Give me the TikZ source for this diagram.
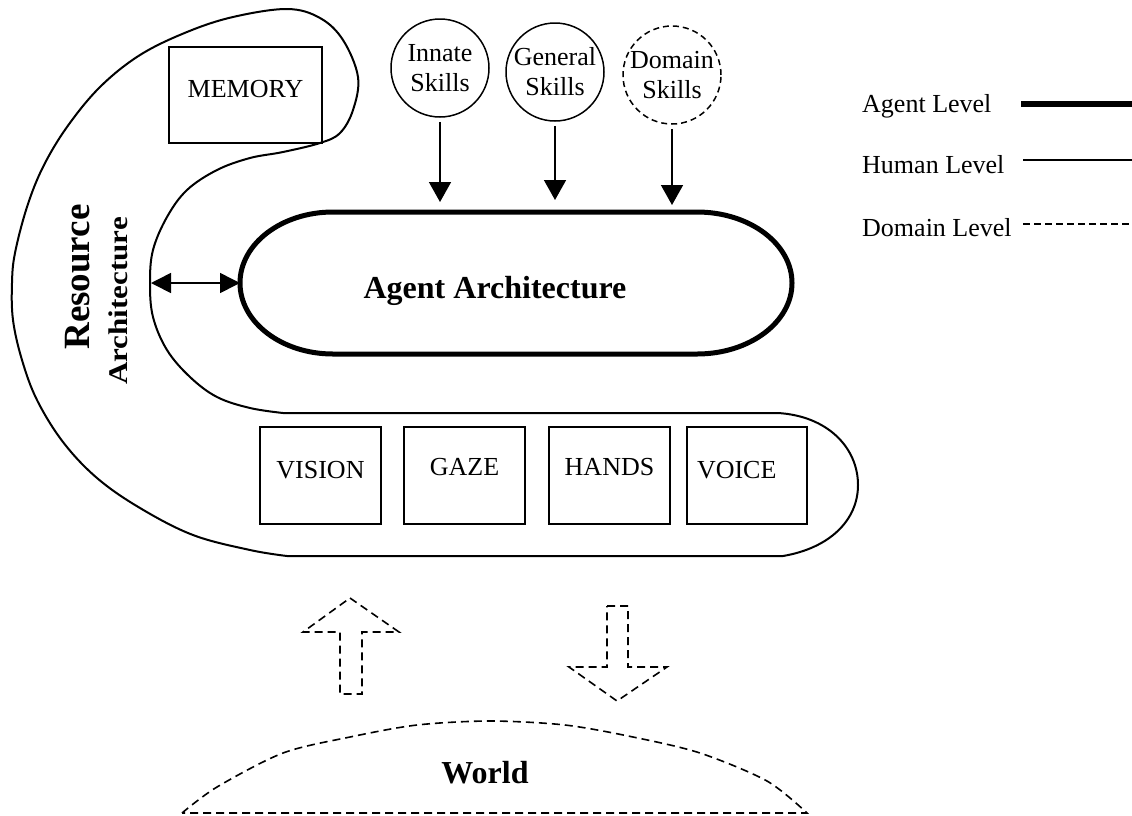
\documentclass[tikz,border=0pt]{standalone}
\usepackage{fontspec}
\setmainfont{Liberation Serif}
\usetikzlibrary{arrows.meta}
\begin{document}
\begin{tikzpicture}[x=1pt,y=-1pt,
  outline/.style={line width=2pt, line join=round},
  agentline/.style={line width=5pt, line join=round},
  domline/.style={line width=1.6pt, dash pattern=on 8pt off 5pt},
  box/.style={draw, line width=1.5pt, minimum width=121pt, minimum height=97pt, inner sep=0pt, font=\fontsize{26}{30}\selectfont},
  skill/.style={circle, draw, line width=1.5pt, minimum size=98pt, inner sep=0pt, align=center, font=\fontsize{26}{30}\selectfont},
  arr/.style={line width=1.6pt, -{Triangle[length=20pt,width=22pt]}},
  dblarr/.style={line width=1.6pt, {Triangle[length=20pt,width=20pt]}-{Triangle[length=20pt,width=20pt]}},
  lab/.style={font=\fontsize{26}{30}\selectfont, inner sep=0pt},
]
\useasboundingbox (0,0) rectangle (1132,815);

% Resource architecture outline
\draw[outline] (778,413) -- (283,413)
  -- plot[smooth, tension=0.6] coordinates {(283,413) (250,408) (217,397) (190,377) (167,350) (153,317) (150,283) (153,250) (167,217) (187,190) (217,170) (250,158) (283,152) (320,143) (340,133) (353,110) (358,77) (343,40) (320,18) (287,9) (233,17) (187,32) (140,55) (100,87) (67,127) (43,167) (27,207) (15,253) (12,283) (13,320) (22,360) (37,400) (63,442) (97,478) (140,508) (193,535) (250,550) (287,556)}
  -- (783,556)
  .. controls (830,548) and (858,520) .. (858,485)
  .. controls (858,448) and (828,416) .. (778,413)
  -- cycle;

\node[rotate=90, inner sep=0pt, font=\bfseries\fontsize{37}{40}\selectfont] (res) at (78,277) {Resource};
\node[rotate=90, inner sep=0pt, font=\bfseries\fontsize{27}{30}\selectfont] (resarch) at (118,301) {\scalebox{1.15}[1]{Architecture}};

% Memory
\node[box, minimum width=153pt, minimum height=96pt, text height=19pt, text depth=15pt] (memory) at (245.5,95) {MEMORY};

% Agent architecture
\draw[agentline] (333,212) -- (697,212) .. controls (749.5,212) and (792,243.8) .. (792,283)
  .. controls (792,322.2) and (749.5,354) .. (697,354) -- (333,354)
  .. controls (281.6,354) and (240,322.2) .. (240,283)
  .. controls (240,243.8) and (281.6,212) .. (333,212) -- cycle;
\node[anchor=base, inner sep=0pt, font=\bfseries\fontsize{32}{36}\selectfont] (agent) at (495,298) {Agent Architecture};

% Skills
\node[skill] (innate) at (440,68) {Innate\\Skills};
\node[skill] (general) at (555,72) {General\\Skills};
\node[skill, dash pattern=on 6pt off 4pt] (domain) at (672,75) {Domain\\Skills};
\coordinate (ai) at (440,202);
\coordinate (ag) at (555,200);
\coordinate (ad) at (672,205);
\draw[arr, shorten <=4pt] (innate) -- (ai);
\draw[arr, shorten <=4pt] (general) -- (ag);
\draw[arr, shorten <=4pt] (domain) -- (ad);

% Double arrow
\coordinate (resL) at (151,283);
\coordinate (agentL) at (240,283);
\draw[dblarr] (resL) -- (agentL);

% Effectors / sensors
\node[box, text height=19pt, text depth=14pt] (vision) at (320.5,475.5) {VISION};
\node[box, text height=19pt, text depth=20pt] (gaze) at (464.5,475.5) {GAZE};
\node[box, text height=19pt, text depth=20pt] (hands) at (609.5,475.5) {HANDS};
\node[box, minimum width=120pt, text width=100pt, align=left, text height=19pt, text depth=14pt] (voice) at (747,475.5) {VOICE};

% Dashed block arrows
\draw[domline, line join=miter] (350,598) -- (399,632) -- (362,632) -- (362,694) -- (340,694) -- (340,632) -- (303,632) -- cycle;
\draw[domline, line join=miter] (607,606) -- (628,606) -- (628,667) -- (667,667) -- (617,701) -- (569,667) -- (607,667) -- cycle;

% World
\draw[domline] plot[smooth] coordinates {(182,813) (217,787) (283,753) (350,737) (417,725) (490,721) (565,725) (633,737) (700,753) (767,781) (807,813)} -- cycle;
\node[anchor=base, inner sep=0pt, font=\bfseries\fontsize{32}{36}\selectfont] (world) at (485,783) {World};

% Legend
\node[lab, anchor=base west] (lagent) at (862,112) {Agent Level};
\node[lab, anchor=base west] (lhuman) at (862,173) {Human Level};
\node[lab, anchor=base west] (ldomain) at (862,236) {Domain Level};
\coordinate (la1) at (1021,104); \coordinate (la2) at (1132,104);
\coordinate (lh1) at (1023,160); \coordinate (lh2) at (1132,160);
\coordinate (ld1) at (1023,224); \coordinate (ld2) at (1132,224);
\draw[line width=6pt] (la1) -- (la2);
\draw[line width=1.6pt] (lh1) -- (lh2);
\draw[line width=1.5pt, dash pattern=on 7pt off 4pt] (ld1) -- (ld2);
\end{tikzpicture}
\end{document}
